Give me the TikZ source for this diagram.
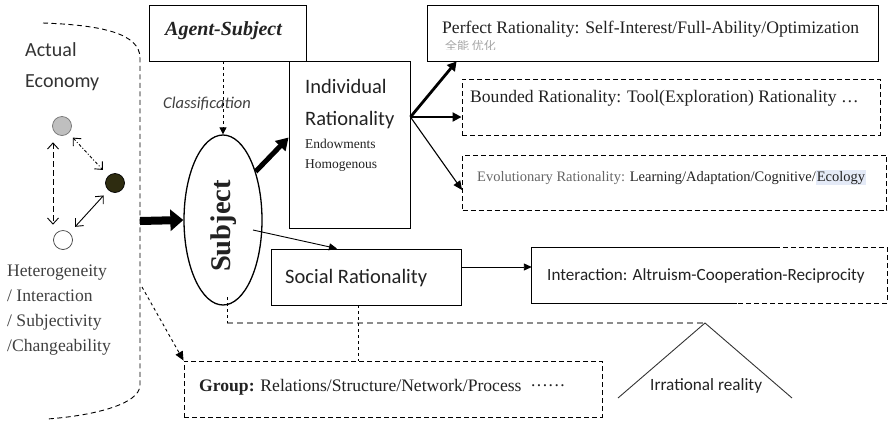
\documentclass[tikz,border=0pt]{standalone}
\usepackage{fontspec}
\setmainfont{Liberation Serif}
\newfontfamily\sansfam{Carlito}
\newfontfamily\cjkfam{Noto Sans CJK SC}
\usetikzlibrary{arrows.meta,shapes.geometric}
\definecolor{ink}{HTML}{222222}
\definecolor{darkdot}{HTML}{2E2C10}
\definecolor{hilite}{HTML}{E4EAF7}
\begin{document}
\begin{tikzpicture}[x=1pt,y=-1pt,
  box/.style={draw, line width=0.9pt, inner sep=0pt},
  dbox/.style={box, dash pattern=on 5pt off 3pt},
  txt/.style={anchor=base west, inner sep=0pt, text=ink},
  serifbig/.style={txt, font=\fontsize{17.6}{20}\selectfont},
  sansmid/.style={txt, font=\sansfam\fontsize{20.5}{23}\selectfont},
  dot/.style={circle, draw, line width=0.7pt, minimum size=19pt, inner sep=0pt},
  barb/.style={{Straight Barb[length=6pt,width=11pt]}-{Straight Barb[length=6pt,width=11pt]}},
  fine/.style={-{Triangle[length=8pt,width=7pt]}}]
\useasboundingbox[fill=white] (0,0) rectangle (888,421);

% ---- actual economy: boundary, agents, labels ----
\draw[dash pattern=on 5pt off 3.5pt, line width=0.9pt]
  (43,23) .. controls (100,25) and (140,33) .. (140,58) -- (140,385)
  .. controls (140,405) and (90,416) .. (47,419);
\node[txt, font=\sansfam\fontsize{20}{22}\selectfont, text=black!80] (act) at (25,56) {Actual};
\node[txt, font=\sansfam\fontsize{20}{22}\selectfont, text=black!80] (eco) at (25,87) {Economy};

\node[dot, fill=black!25, draw=black!55] (g) at (62,126) {};
\node[dot, fill=darkdot, draw=black] (d) at (115,183) {};
\node[dot, fill=white, draw=black!75] (w) at (63,240) {};
\draw[barb, line width=0.9pt, dash pattern=on 6pt off 3pt]
  ([xshift=-9pt,yshift=-6.5pt]g.south) -- ([xshift=-10pt,yshift=5.5pt]w.north);
\draw[barb, line width=0.9pt, dash pattern=on 3pt off 2pt on 1pt off 2pt, shorten <=6pt, shorten >=8pt] (g) -- (d);
\draw[barb, line width=0.9pt, shorten <=7pt, shorten >=8pt] (d) -- (w);

\node[serifbig, text=black!75] (h1) at (7,276) {Heterogeneity};
\node[serifbig, text=black!75] (h2) at (7,301) {/ Interaction};
\node[serifbig, text=black!75] (h3) at (7,326) {/ Subjectivity};
\node[serifbig, text=black!75] (h4) at (7,351) {/Changeability};

\coordinate (ea) at (140,221);
\coordinate (eb) at (142,287);

% ---- agent subject ----
\node[box, minimum width=157pt, minimum height=56pt] (agent) at (227.5,33) {};
\node[txt, font=\bfseries\itshape\fontsize{20}{22}\selectfont] (agentt) at (165,35) {Agent-Subject};
\node[txt, font=\sansfam\itshape\fontsize{16.5}{18}\selectfont, text=black!75] (cls) at (163,108) {Classification};

\node[draw, ellipse, line width=1.3pt, minimum width=78pt, minimum height=170pt, inner sep=0pt] (subj) at (223,220) {};
\node[rotate=90, inner sep=0pt, font=\bfseries\fontsize{28.5}{30}\selectfont, text=ink] (subjt) at (224,226) {Subject};

\draw[dashed, line width=0.8pt, -{Triangle[length=7pt,width=7pt]}] (agent.south -| subj.north) -- (subj.north);
\draw[line width=8pt, -{Triangle[length=13pt,width=21pt]}] (ea) -- (subj.west);

% ---- individual rationality ----
\node[box, minimum width=121pt, minimum height=167pt] (ind) at (349.5,144.5) {};
\node[sansmid] (ind1) at (305,93) {Individual};
\node[sansmid] (ind2) at (305,125) {Rationality};
\node[txt, font=\fontsize{13.5}{15}\selectfont] (ind3) at (305,148) {Endowments};
\node[txt, font=\fontsize{13.5}{15}\selectfont] (ind4) at (305,168) {Homogenous};
\draw[line width=5pt, -{Triangle[length=12pt,width=14pt]}] (subj.56) -- ([yshift=7pt]ind.west);

\node[box, minimum width=451pt, minimum height=56pt] (perf) at (652.5,33) {};
\node[serifbig] (perft) at (442,33) {Perfect Rationality: Self-Interest/Full-Ability/Optimization};
\begin{scope}
  \clip (440,40) rectangle (520,49.5);
  \node[anchor=north west, inner sep=0pt, font=\cjkfam\fontsize{12}{13}\selectfont, text=black!35] (perfc) at (445,40.5) {全能\ 优化};
\end{scope}

\node[dbox, minimum width=418pt, minimum height=56pt] (bnd) at (671,107) {};
\node[serifbig] (bndt) at (470,102) {Bounded Rationality: Tool(Exploration) Rationality \ldots};

\node[dbox, minimum width=424pt, minimum height=55pt] (evo) at (674.5,182.5) {};
\node[txt, font=\fontsize{14.5}{16}\selectfont] (evot) at (477,181)
  {{\color{black!60}Evolutionary Rationality:} Learning/Adaptation/Cognitive/{\fboxsep=1pt\colorbox{hilite}{Ecology}}};

\draw[line width=2.8pt, -{Triangle[length=9pt,width=10pt]}] ([yshift=27.5pt]ind.east) -- ([xshift=30pt]perf.south west);
\draw[line width=2pt, -{Triangle[length=9pt,width=9pt]}] ([yshift=27.5pt]ind.east) -- ([yshift=-10pt]bnd.west);
\draw[line width=1.1pt, -{Triangle[length=9pt,width=8pt]}] ([yshift=27.5pt]ind.east) -- ([yshift=-7.5pt]evo.west);

% ---- social rationality ----
\node[box, minimum width=190pt, minimum height=56pt] (soc) at (366,277) {};
\node[sansmid] (soct) at (285,283) {Social Rationality};
\draw[line width=0.9pt, fine] ([xshift=30pt,yshift=-10pt]subj.center) -- ([xshift=-29pt]soc.north);

\node[inner sep=0pt, minimum width=355pt, minimum height=55pt] (int) at (709.5,275.5) {};
\draw[line width=0.9pt] ([xshift=243pt]int.north west) -- (int.north west) -- (int.south west) -- ([xshift=205pt]int.south west);
\draw[line width=0.9pt, dash pattern=on 5pt off 3pt] ([xshift=243pt]int.north west) -- (int.north east) -- (int.south east) -- ([xshift=205pt]int.south west);
\node[txt, font=\sansfam\fontsize{17.1}{19}\selectfont] (intt) at (547,280) {Interaction: Altruism-Cooperation-Reciprocity};
\draw[line width=0.9pt, fine] ([yshift=10pt]soc.east) -- ([yshift=10pt]soc.east -| int.west);

% ---- irrational reality ----
\coordinate (sb) at (227,297);
\coordinate (gl) at (227,323);
\coordinate (apex) at (705,323);
\coordinate (tl) at (618,398);
\coordinate (tr) at (792,398);
\draw[black!45, line width=1.6pt, dash pattern=on 6pt off 4pt] (gl) -- (apex);
\draw[dashed, line width=0.8pt] (sb) -- (gl);
\draw[black!80, line width=0.9pt] (tl) -- (apex) -- (tr);
\node[txt, font=\sansfam\fontsize{17.2}{19}\selectfont] (irr) at (650,390) {Irrational reality};

% ---- group ----
\node[dbox, minimum width=418pt, minimum height=56pt] (grp) at (393,389) {};
\node[serifbig] (grpt) at (199,391) {\textbf{Group:} Relations/Structure/Network/Process \ ······};
\draw[dashed, line width=0.8pt] ([xshift=-8pt]soc.south) -- ([xshift=-8pt]soc.south |- grp.north);
\draw[dashed, line width=0.9pt, -{Triangle[length=9pt,width=8pt]}] (eb) -- (grp.north west);
\end{tikzpicture}
\end{document}
